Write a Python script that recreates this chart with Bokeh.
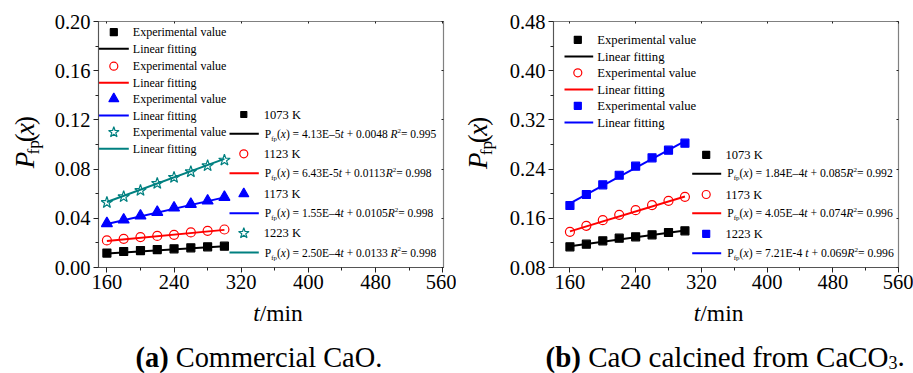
import math
from bokeh.plotting import figure
from bokeh.layouts import row, column
from bokeh.models import Range1d, Label, LinearAxis, FixedTicker, CustomJSTickFormatter
from bokeh.embed import file_html
from bokeh.resources import INLINE

FONT = "Liberation Serif"

# ---------------- data ----------------
t_min = [160, 180, 200, 220, 240, 260, 280, 300]

# (a) Commercial CaO
a_temps = ["1073 K", "1123 K", "1173 K", "1223 K"]
a_1073 = [0.0117, 0.0130, 0.0138, 0.0146, 0.0152, 0.0160, 0.0168, 0.0173]
a_1123 = [0.0220, 0.0233, 0.0247, 0.0257, 0.0266, 0.0285, 0.0298, 0.0309]
a_1173 = [0.0358, 0.0388, 0.0420, 0.0450, 0.0485, 0.0515, 0.0542, 0.0572]
a_1223 = [0.0528, 0.0575, 0.0626, 0.0683, 0.0732, 0.0778, 0.0827, 0.0873]
a_slope = [4.13e-5, 6.43e-5, 1.55e-4, 2.50e-4]
a_inter = [0.0048, 0.0113, 0.0105, 0.0133]
a_slope_txt = ["4.13E\u20135", "6.43E-5", "1.55E\u20134", "2.50E\u20134"]
a_inter_txt = ["0.0048 ", "0.0113", "0.0105", "0.0133 "]
a_r2_txt = ["0.995", "0.998", "0.998", "0.998"]

# (b) CaO calcined from CaCO3
b_temps = ["1073 K", "1173 K", "1223 K"]
b_1073 = [0.1136, 0.1180, 0.1234, 0.1277, 0.1299, 0.1331, 0.1369, 0.1396]
b_1173 = [0.1380, 0.1478, 0.1570, 0.1656, 0.1732, 0.1813, 0.1884, 0.1949]
b_1223 = [0.1808, 0.1987, 0.2144, 0.2300, 0.2448, 0.2583, 0.2708, 0.2822]
b_slope = [1.84e-4, 4.05e-4, 7.21e-4]
b_inter = [0.085, 0.074, 0.069]
b_slope_txt = ["1.84E\u20134", "4.05E\u20134", "7.21E-4 "]
b_inter_txt = ["0.085", "0.074", "0.069"]
b_r2_txt = ["0.992", "0.996", "0.996"]

x_ticks = [160, 240, 320, 400, 480, 560]
x_minor = [200, 280, 360, 440, 520]
a_y_ticks = [0.00, 0.04, 0.08, 0.12, 0.16, 0.20]
a_y_minor = [0.02, 0.06, 0.10, 0.14, 0.18]
b_y_ticks = [0.08, 0.16, 0.24, 0.32, 0.40, 0.48]
b_y_minor = [0.12, 0.20, 0.28, 0.36, 0.44]

# ---------------- text metrics (Times / Liberation Serif) ----------------
W_REG = {' ': 250, '(': 333, ')': 333, '+': 564, '-': 333, '.': 250, '/': 278,
         '=': 564, '\u2013': 500, '\u2212': 564, 'C': 667, 'E': 611, 'K': 722,
         'O': 722, 'P': 556, 'R': 667, 'a': 444, 'b': 500, 'c': 444, 'd': 500,
         'e': 444, 'f': 333, 'g': 500, 'i': 278, 'l': 278, 'm': 778, 'n': 500,
         'o': 500, 'p': 500, 'r': 333, 't': 278, 'u': 500, 'v': 500, 'x': 500}
W_IT = dict(W_REG)
W_IT.update({'t': 278, 'x': 444, 'P': 611, 'R': 611})
W_BOLD = dict(W_REG)
W_BOLD.update({'a': 500, 'b': 556})
TABLES = {"normal": W_REG, "italic": W_IT, "bold": W_BOLD}
BASE_SHIFT = 0.33    # renderer places "alphabetic" text this many em lower


def run_w(txt, style, fs):
    tb = TABLES[style]
    return sum(tb.get(c, 500) for c in txt) / 1000.0 * fs


def add_runs(p, runs, x, y, size, color="black", angle=0.0, anchor="left"):
    """Place styled text runs; x, y are panel pixel coordinates of the baseline start."""
    total = sum(run_w(t, st, size * sc) for t, st, sc, dy in runs)
    d = -total / 2 if anchor == "center" else 0.0
    for txt, st, sc, dy in runs:
        fs = size * sc
        lead = len(txt) - len(txt.lstrip(' '))
        core = txt.strip(' ')
        start = d + lead * 0.25 * fs
        if core:
            off = dy - BASE_SHIFT * fs
            if angle == 0:
                lx, ly = x + start, y + off
            else:
                lx, ly = x + off, y - start
            p.add_layout(Label(x=lx, y=ly, x_range_name="px", y_range_name="px",
                               text=core, text_font=FONT, text_font_style=st,
                               text_font_size=f"{fs:.2f}px", text_color=color,
                               text_align="left", text_baseline="alphabetic",
                               angle=angle))
        d += run_w(txt, st, fs)


def eq_runs(slope_txt, inter_txt, r2_txt):
    return [("P", "normal", 1, 0), ("fp", "normal", 0.6, 3), ("(", "normal", 1, 0),
            ("x", "italic", 1, 0), (") = " + slope_txt, "normal", 1, 0),
            ("t", "italic", 1, 0), (" + " + inter_txt, "normal", 1, 0),
            ("R", "italic", 1, 0), ("2", "normal", 0.6, -5),
            ("= " + r2_txt, "normal", 1, 0)]


# ---------------- layout constants (panel pixel coordinates) ----------------
H = 373
YLAB_W = 45          # strip holding the vertical axis title
MAIN_H = 297         # plot figure height (frame + tick labels)
FT, FW, FH = 21, 345, 246


def hide_grids(p):
    for g in list(p.xgrid) + list(p.ygrid):
        g.visible = False


def make_aux(w, h, x0, y0):
    p = figure(width=w, height=h, x_range=Range1d(x0, x0 + w), y_range=Range1d(y0 + h, y0),
               output_backend="svg", toolbar_location=None, min_border=0,
               x_axis_location=None, y_axis_location=None, title=None,
               background_fill_color="white", border_fill_color="white")
    p.outline_line_color = None
    p.extra_x_ranges = {"px": Range1d(x0, x0 + w)}
    p.extra_y_ranges = {"px": Range1d(y0 + h, y0)}
    hide_grids(p)
    return p


def make_main(W, fl, xr, yr, yt, ym):
    w = W - YLAB_W
    p = figure(width=w, height=MAIN_H, x_range=Range1d(*xr), y_range=Range1d(*yr),
               output_backend="svg", toolbar_location=None, title=None,
               min_border_left=fl - YLAB_W, min_border_right=W - fl - FW,
               min_border_top=FT, min_border_bottom=MAIN_H - FT - FH,
               background_fill_color="white", border_fill_color="white")
    p.extra_x_ranges = {"px": Range1d(fl, fl + FW)}
    p.extra_y_ranges = {"px": Range1d(FT + FH, FT)}
    hide_grids(p)
    p.outline_line_color = "#808080"
    p.outline_line_width = 1.2
    for ax, ticks, minor in ((p.xaxis[0], x_ticks, x_minor), (p.yaxis[0], yt, ym)):
        ax.ticker = FixedTicker(ticks=ticks, minor_ticks=minor)
        ax.major_tick_out = 5
        ax.major_tick_in = 0
        ax.minor_tick_out = 3
        ax.minor_tick_in = 0
        ax.axis_line_color = "#555555"
        ax.major_tick_line_color = "#222222"
        ax.minor_tick_line_color = "#222222"
        ax.major_label_text_font = FONT
        ax.major_label_text_font_size = "20.5px"
        ax.major_label_text_color = "black"
    p.xaxis[0].major_label_standoff = 2
    p.yaxis[0].major_label_standoff = 3
    p.yaxis[0].formatter = CustomJSTickFormatter(code="return tick.toFixed(2)")
    for loc, ticks, minor in (("above", x_ticks, x_minor), ("right", yt, ym)):
        ax = LinearAxis(ticker=FixedTicker(ticks=ticks, minor_ticks=minor),
                        formatter=CustomJSTickFormatter(code="return ''"),
                        major_tick_in=2, major_tick_out=0, minor_tick_in=0, minor_tick_out=0,
                        axis_line_color=None, major_tick_line_color="#222222",
                        major_label_text_font_size="1px", major_label_standoff=0)
        p.add_layout(ax, loc)
    return p


def draw_series(p, ys, slope, inter, color, marker, size, fill):
    xs = [t_min[0], t_min[-1]]
    p.line(xs, [slope * x + inter for x in xs], line_color=color, line_width=2)
    p.scatter(t_min, ys, marker=marker, size=size, line_color=color,
              fill_color=fill, line_width=1.2)


def key(p, xm, xl0, xl1, yc, color, marker, msize, fill, is_line):
    if is_line:
        p.segment(x0=[xl0], y0=[yc], x1=[xl1], y1=[yc], line_color=color, line_width=2,
                  x_range_name="px", y_range_name="px")
    else:
        p.scatter([xm], [yc], marker=marker, size=msize, line_color=color, fill_color=fill,
                  line_width=1.2, x_range_name="px", y_range_name="px")


def ylabel_runs():
    return [("P", "italic", 1, 0), ("fp", "normal", 0.65, 5), ("(", "normal", 1, 0),
            ("x", "italic", 1, 0), (")", "normal", 1, 0)]


# ---------------- panel (a) ----------------
WA = 456
pa = make_main(WA, 98, (150, 561), (0.0, 0.2), a_y_ticks, a_y_minor)
a_series = [(a_1073, "black", "square", 8, "black", 7, 6),
            (a_1123, "red", "circle", 9, None, 8, 8),
            (a_1173, "blue", "triangle", 11, "blue", 10, 10),
            (a_1223, "#008080", "star", 12, None, 11, 11)]
for i, (ys, c, m, s, f, ks, ks2) in enumerate(a_series):
    draw_series(pa, ys, a_slope[i], a_inter[i], c, m, s, f)

a_top_rows = [31.7, 48.3, 65.7, 82.3, 98.3, 115.0, 131.7, 148.3]
for i, (ys, c, m, s, f, ks, ks2) in enumerate(a_series):
    y0 = a_top_rows[2 * i]
    y1 = a_top_rows[2 * i + 1]
    key(pa, 113.3, 0, 0, y0, c, m, ks, f, False)
    key(pa, 0, 98.5, 128.3, y1, c, m, ks, f, True)
    add_runs(pa, [("Experimental value", "normal", 1, 0)], 132.3, y0 + 4.2, 12)
    add_runs(pa, [("Linear fitting", "normal", 1, 0)], 132.3, y1 + 4.2, 12)

a_right_rows = [114.0, 133.3, 153.3, 172.7, 193.3, 212.7, 232.7, 252.0]
for i, (ys, c, m, s, f, ks, ks2) in enumerate(a_series):
    y0 = a_right_rows[2 * i]
    y1 = a_right_rows[2 * i + 1]
    key(pa, 243.3, 0, 0, y0, c, m, ks2, f, False)
    key(pa, 0, 229.0, 258.3, y1, c, m, ks2, f, True)
    add_runs(pa, [(a_temps[i], "normal", 1, 0)], 263.3, y0 + 4.4, 12.5)
    add_runs(pa, eq_runs(a_slope_txt[i], a_inter_txt[i], a_r2_txt[i]), 264.3, y1 + 4.0, 11.5)

ya = make_aux(YLAB_W, MAIN_H, 0, 0)
add_runs(ya, ylabel_runs(), 33.0, 146.5, 27, angle=math.pi / 2, anchor="center")
ba = make_aux(WA, H - MAIN_H, 0, MAIN_H)
add_runs(ba, [("t", "italic", 1, 0), ("/min", "normal", 1, 0)], 252.7, 320.0, 23.5)
add_runs(ba, [("(a)", "bold", 1, 0), (" Commercial CaO.", "normal", 1, 0)], 135.0, 366.3, 28.4)
panel_a = column(row(ya, pa), ba)

# ---------------- panel (b) ----------------
WB = 457
pb = make_main(WB, 97, (140, 560), (0.08, 0.48), b_y_ticks, b_y_minor)
b_data = [b_1073, b_1173, b_1223]
b_series = [("black", "square", 8, "black", 7, 7),
            ("red", "circle", 9, None, 8, 8),
            ("blue", "square", 8, "blue", 7, 7)]
for i, (c, m, s, f, ks, ks2) in enumerate(b_series):
    draw_series(pb, b_data[i], b_slope[i], b_inter[i], c, m, s, f)

b_top_rows = [39.3, 56.0, 72.3, 89.0, 105.3, 122.0]
for i, (c, m, s, f, ks, ks2) in enumerate(b_series):
    y0 = b_top_rows[2 * i]
    y1 = b_top_rows[2 * i + 1]
    key(pb, 121.3, 0, 0, y0, c, m, ks, f, False)
    key(pb, 0, 108.0, 136.7, y1, c, m, ks, f, True)
    add_runs(pb, [("Experimental value", "normal", 1, 0)], 140.7, y0 + 4.4, 12.7)
    add_runs(pb, [("Linear fitting", "normal", 1, 0)], 140.7, y1 + 4.4, 12.7)

b_right_rows = [154.3, 173.3, 194.0, 212.7, 233.3, 252.7]
for i, (c, m, s, f, ks, ks2) in enumerate(b_series):
    y0 = b_right_rows[2 * i]
    y1 = b_right_rows[2 * i + 1]
    key(pb, 249.7, 0, 0, y0, c, m, ks2, f, False)
    key(pb, 0, 235.7, 264.7, y1, c, m, ks2, f, True)
    add_runs(pb, [(b_temps[i], "normal", 1, 0)], 269.0, y0 + 4.4, 12.5)
    add_runs(pb, eq_runs(b_slope_txt[i], b_inter_txt[i], b_r2_txt[i]), 270.7, y1 + 4.0, 11.7)

yb = make_aux(YLAB_W, MAIN_H, 0, 0)
add_runs(yb, ylabel_runs(), 30.5, 147.5, 27, angle=math.pi / 2, anchor="center")
bb = make_aux(WB, H - MAIN_H, 0, MAIN_H)
add_runs(bb, [("t", "italic", 1, 0), ("/min", "normal", 1, 0)], 237.3, 320.0, 23.5)
add_runs(bb, [("(b)", "bold", 1, 0), (" CaO calcined from CaCO", "normal", 1, 0),
              ("3", "normal", 0.62, 2.5), (".", "normal", 1, 0)], 89.0, 365.8, 29.0)
panel_b = column(row(yb, pb), bb)

layout = row(panel_a, panel_b)
open("out.html", "w").write(file_html(layout, INLINE))
